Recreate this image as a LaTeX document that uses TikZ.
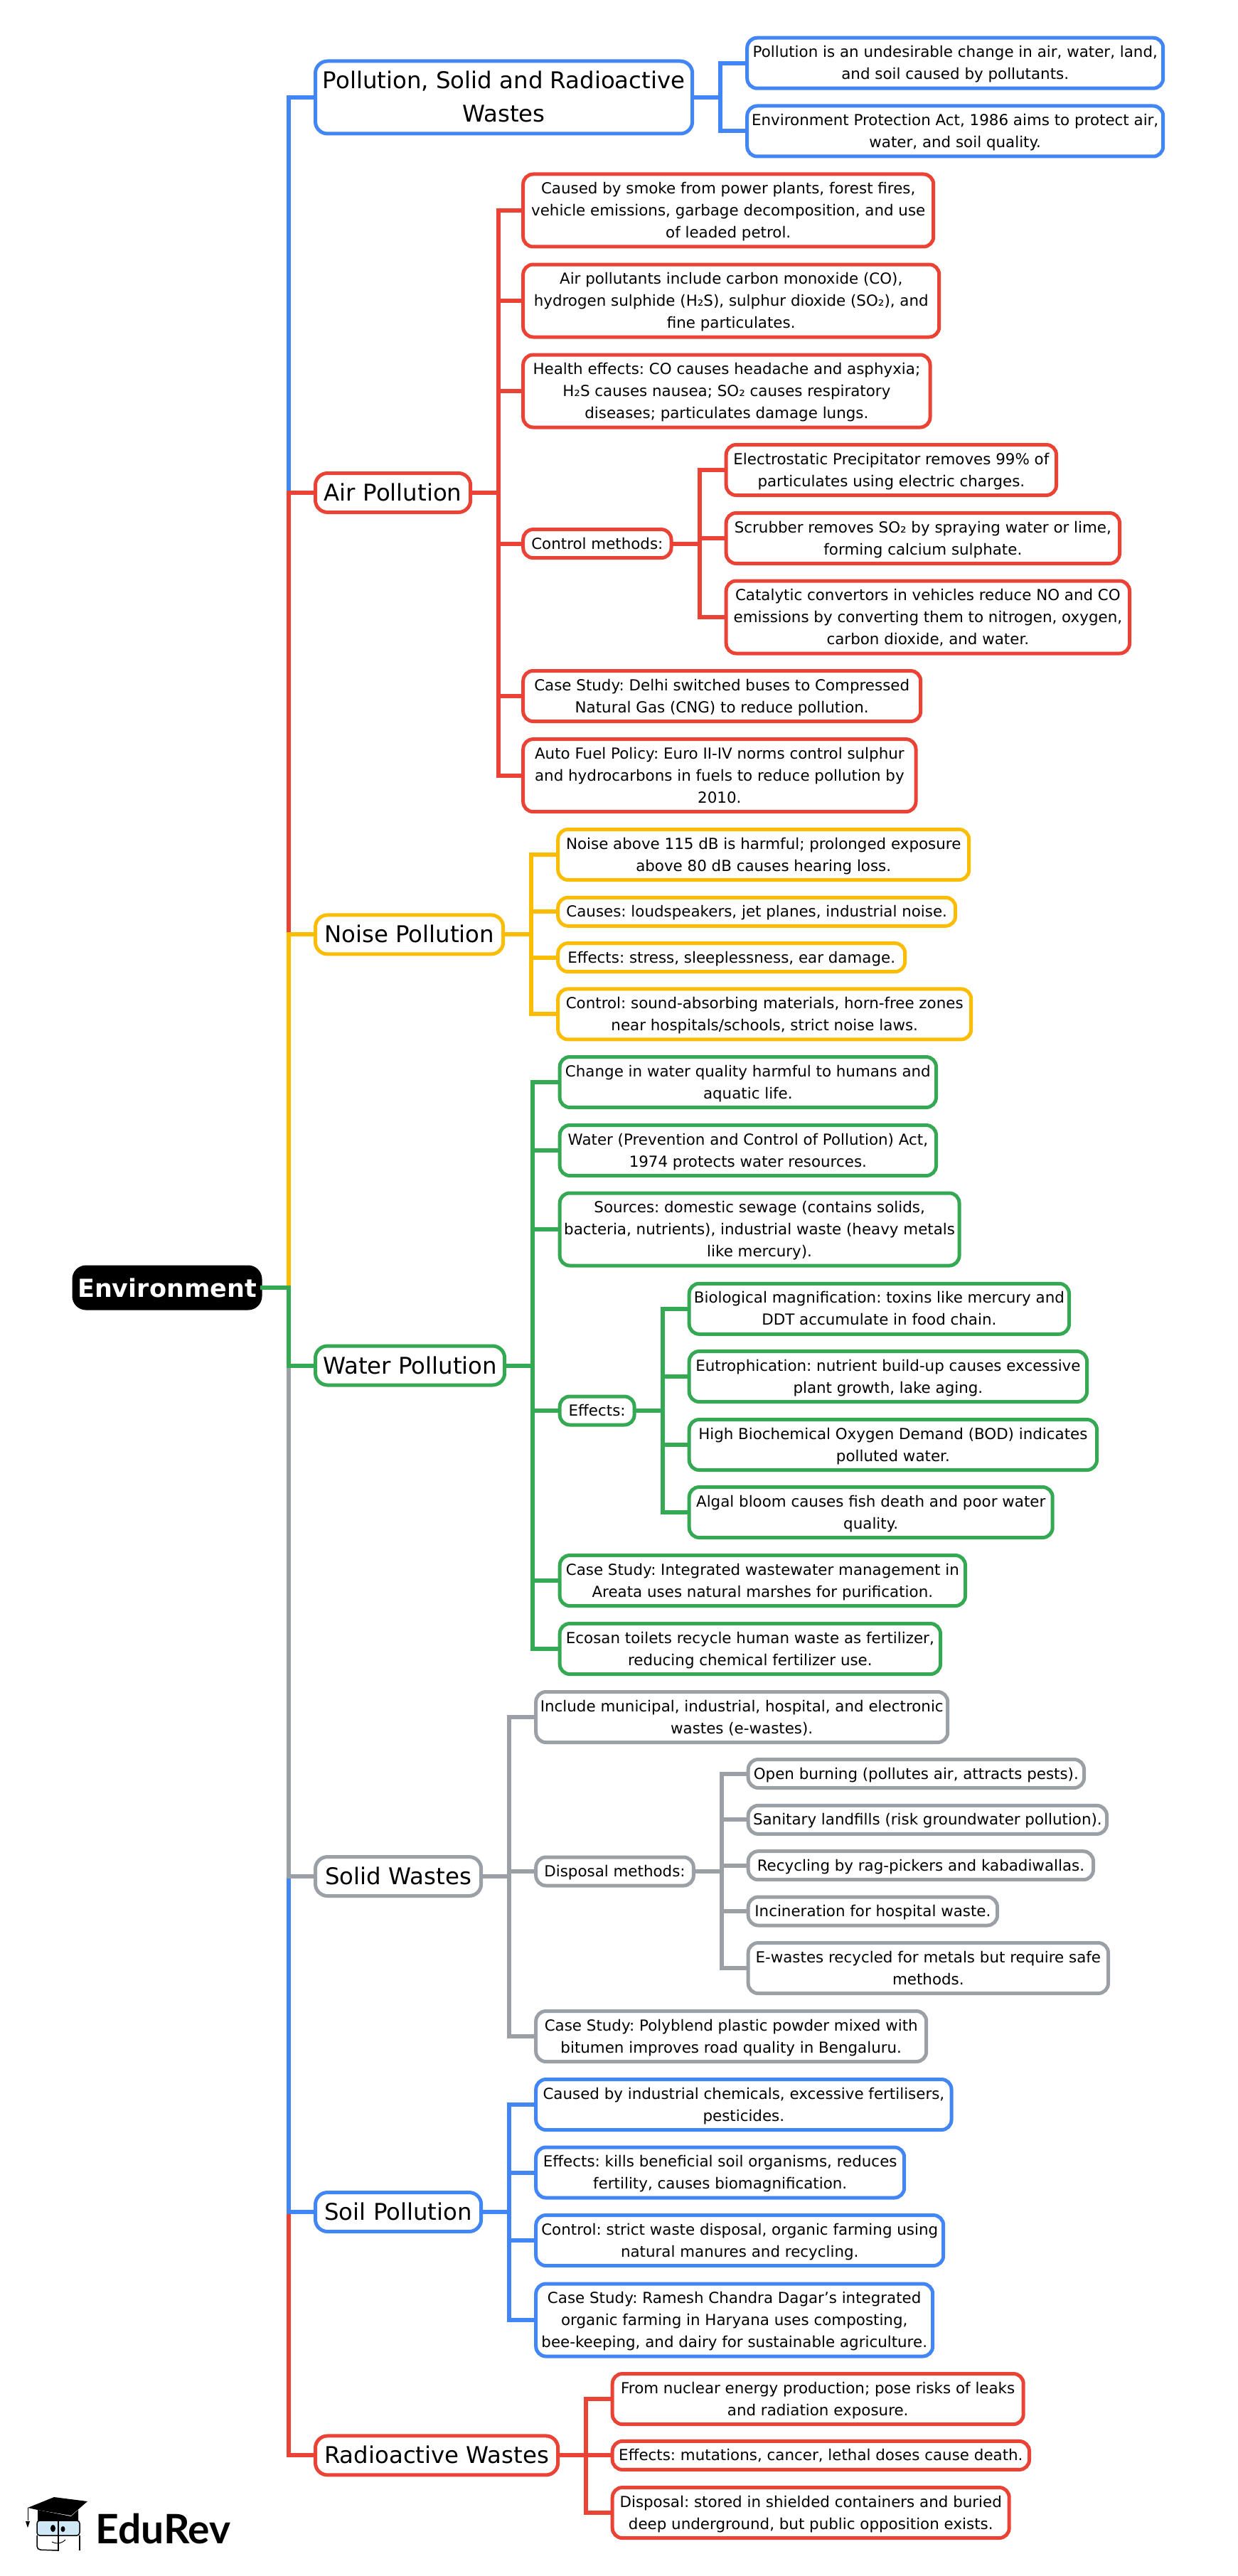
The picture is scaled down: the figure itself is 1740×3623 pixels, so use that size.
\documentclass[tikz,border=0pt]{standalone}
\usepackage{fontspec}
\setmainfont{DejaVu Sans}
\newfontfamily\logofont{Lato}
\usepackage{xcolor}
\definecolor{topblue}{HTML}{4285F4}
\definecolor{topred}{HTML}{EA4335}
\definecolor{topyellow}{HTML}{FBBC04}
\definecolor{topgreen}{HTML}{34A853}
\definecolor{topgray}{HTML}{9AA0A6}
\definecolor{lensblue}{HTML}{CFE8F6}
\AtBeginDocument{\frenchspacing}
\tikzset{
  box/.style={draw=#1, line width=5pt, outer sep=0pt, anchor=west, align=center},
  wide/.style={minimum width=#1*1pt},
  rows/.style={text height=#1*31pt-8pt, text depth=8pt},
  bigrows/.style={text height=#1*47pt-12pt, text depth=12pt},
  topic/.style={box=#1, rounded corners=17pt, inner xsep=10pt, inner ysep=4pt, bigrows=1,
    font=\fontsize{32.4}{47}\selectfont},
  leaf/.style={box=#1, rounded corners=14pt, inner xsep=6pt, inner ysep=4.5pt, rows=1,
    font=\fontsize{21.4}{31}\selectfont},
  branch/.style={draw=#1, line width=6pt, line join=miter,
    to path={-- ++(39.5,0) |- (\tikztotarget)}}
}
\begin{document}
\begin{tikzpicture}[x=1pt, y=-1pt]
    \useasboundingbox (0,0) rectangle (1740,3623);

    \node [box=black, fill=black, text=white, rounded corners=17pt, minimum width=262pt,
      minimum height=58pt, font=\fontsize{35}{47}\selectfont\bfseries] (environment)
      at (104,1811) {Environment};

    \node [topic=topblue, bigrows=2, wide=530.2] (pollution) at (443.5,137) {Pollution, Solid and Radioactive\\Wastes};
    \node [topic=topred, wide=218.2] (air) at (443.5,693) {Air Pollution};
    \node [topic=topyellow, wide=264.2] (noise) at (443.5,1314.4) {Noise Pollution};
    \node [topic=topgreen, wide=266.2] (water) at (443.5,1920.5) {Water Pollution};
    \node [topic=topgray, wide=233.2] (solid) at (443.5,2639) {Solid Wastes};
    \node [topic=topblue, wide=233.2] (soil) at (443.5,3111) {Soil Pollution};
    \node [topic=topred, wide=341.2] (radio) at (443.5,3453.4) {Radioactive Wastes};

    \node [leaf=topblue, rows=2, wide=585] (pol1) at (1050.7,88.7) {Pollution is an undesirable change in air, water, land,\\and soil caused by pollutants.};
    \node [leaf=topblue, rows=2, wide=585] (pol2) at (1050.7,184.5) {Environment Protection Act, 1986 aims to protect air,\\water, and soil quality.};

    \node [leaf=topred, rows=3, wide=577] (air1) at (735.7,296) {Caused by smoke from power plants, forest fires,\\vehicle emissions, garbage decomposition, and use\\of leaded petrol.};
    \node [leaf=topred, rows=3, wide=585] (air2) at (735.7,423) {Air pollutants include carbon monoxide (CO),\\hydrogen sulphide (H₂S), sulphur dioxide (SO₂), and\\fine particulates.};
    \node [leaf=topred, rows=3, wide=572.3] (air3) at (735.7,550) {Health effects: CO causes headache and asphyxia;\\H₂S causes nausea; SO₂ causes respiratory\\diseases; particulates damage lungs.};
    \node [leaf=topred, wide=208.3] (control) at (735.7,764.6) {Control methods:};
    \node [leaf=topred, rows=2, wide=559] (air5) at (735.7,979) {Case Study: Delhi switched buses to Compressed\\Natural Gas (CNG) to reduce pollution.};
    \node [leaf=topred, rows=3, wide=552.3] (air6) at (735.7,1090.6) {Auto Fuel Policy: Euro II-IV norms control sulphur\\and hydrocarbons in fuels to reduce pollution by\\2010.};

    \node [leaf=topred, rows=2, wide=464.3] (ctl1) at (1021.2,661) {Electrostatic Precipitator removes 99\% of\\particulates using electric charges.};
    \node [leaf=topred, rows=2, wide=553.3] (ctl2) at (1021.2,757) {Scrubber removes SO₂ by spraying water or lime,\\forming calcium sulphate.};
    \node [leaf=topred, rows=3, wide=567.3] (ctl3) at (1021.2,868) {Catalytic convertors in vehicles reduce NO and CO\\emissions by converting them to nitrogen, oxygen,\\carbon dioxide, and water.};

    \node [leaf=topyellow, rows=2, wide=578] (noise1) at (784.7,1202) {Noise above 115 dB is harmful; prolonged exposure\\above 80 dB causes hearing loss.};
    \node [leaf=topyellow, wide=559] (noise2) at (784.7,1282.3) {Causes: loudspeakers, jet planes, industrial noise.};
    \node [leaf=topyellow, wide=488] (noise3) at (784.7,1346.6) {Effects: stress, sleeplessness, ear damage.};
    \node [leaf=topyellow, rows=2, wide=581] (noise4) at (784.7,1426.4) {Control: sound-absorbing materials, horn-free zones\\near hospitals/schools, strict noise laws.};

    \node [leaf=topgreen, rows=2, wide=529.3] (water1) at (787.2,1522) {Change in water quality harmful to humans and\\aquatic life.};
    \node [leaf=topgreen, rows=2, wide=529.3] (water2) at (787.2,1618) {Water (Prevention and Control of Pollution) Act,\\1974 protects water resources.};
    \node [leaf=topgreen, rows=3, wide=559.3] (water3) at (787.2,1729) {Sources: domestic sewage (contains solids,\\bacteria, nutrients), industrial waste (heavy metals\\like mercury).};
    \node [leaf=topgreen, wide=104.9] (effects) at (787.2,1984) {Effects:};
    \node [leaf=topgreen, rows=2, wide=570.3] (water5) at (787.2,2223) {Case Study: Integrated wastewater management in\\Areata uses natural marshes for purification.};
    \node [leaf=topgreen, rows=2, wide=535.3] (water6) at (787.2,2319) {Ecosan toilets recycle human waste as fertilizer,\\reducing chemical fertilizer use.};

    \node [leaf=topgreen, rows=2, wide=534.3] (eff1) at (969.2,1840.8) {Biological magnification: toxins like mercury and\\DDT accumulate in food chain.};
    \node [leaf=topgreen, rows=2, wide=559.3] (eff2) at (969.2,1936) {Eutrophication: nutrient build-up causes excessive\\plant growth, lake aging.};
    \node [leaf=topgreen, rows=2, wide=573.3] (eff3) at (969.2,2032) {High Biochemical Oxygen Demand (BOD) indicates\\polluted water.};
    \node [leaf=topgreen, rows=2, wide=511] (eff4) at (969.2,2127) {Algal bloom causes fish death and poor water\\quality.};

    \node [leaf=topgray, rows=2, wide=579] (solid1) at (753.7,2415) {Include municipal, industrial, hospital, and electronic\\wastes (e-wastes).};
    \node [leaf=topgray, wide=221.6] (disposal) at (753.7,2632) {Disposal methods:};
    \node [leaf=topgray, rows=2, wide=549] (solid3) at (753.7,2864) {Case Study: Polyblend plastic powder mixed with\\bitumen improves road quality in Bengaluru.};

    \node [leaf=topgray, wide=472.3] (disp1) at (1052.2,2494.5) {Open burning (pollutes air, attracts pests).};
    \node [leaf=topgray, wide=504.3] (disp2) at (1052.2,2559.4) {Sanitary landfills (risk groundwater pollution).};
    \node [leaf=topgray, wide=485.3] (disp3) at (1052.2,2623.7) {Recycling by rag-pickers and kabadiwallas.};
    \node [leaf=topgray, wide=350.3] (disp4) at (1052.2,2688) {Incineration for hospital waste.};
    \node [leaf=topgray, rows=2, wide=506.3] (disp5) at (1052.2,2768) {E-wastes recycled for metals but require safe\\methods.};

    \node [leaf=topblue, rows=2, wide=584.3] (soil1) at (753.7,2960) {Caused by industrial chemicals, excessive fertilisers,\\pesticides.};
    \node [leaf=topblue, rows=2, wide=518] (soil2) at (753.7,3055.5) {Effects: kills beneficial soil organisms, reduces\\fertility, causes biomagnification.};
    \node [leaf=topblue, rows=2, wide=573] (soil3) at (753.7,3151) {Control: strict waste disposal, organic farming using\\natural manures and recycling.};
    \node [leaf=topblue, rows=3, wide=558] (soil4) at (753.7,3263) {Case Study: Ramesh Chandra Dagar’s integrated\\organic farming in Haryana uses composting,\\bee-keeping, and dairy for sustainable agriculture.};

    \node [leaf=topred, rows=2, wide=578] (radio1) at (861.2,3374) {From nuclear energy production; pose risks of leaks\\and radiation exposure.};
    \node [leaf=topred, wide=586.3] (radio2) at (861.2,3453.4) {Effects: mutations, cancer, lethal doses cause death.};
    \node [leaf=topred, rows=2, wide=558] (radio3) at (861.2,3534) {Disposal: stored in shielded containers and buried\\deep underground, but public opposition exists.};

    \foreach \topicname/\col in {pollution/topblue, air/topred, noise/topyellow, radio/topred,
      soil/topblue, solid/topgray, water/topgreen}
      \draw [branch=\col] (environment.east) to (\topicname.west);

    \foreach \kid in {pol1, pol2}
      \draw [branch=topblue] (pollution.east) to (\kid.west);
    \foreach \kid in {air1, air2, air3, control, air5, air6}
      \draw [branch=topred] (air.east) to (\kid.west);
    \foreach \kid in {ctl1, ctl2, ctl3}
      \draw [branch=topred] (control.east) to (\kid.west);
    \foreach \kid in {noise1, noise2, noise3, noise4}
      \draw [branch=topyellow] (noise.east) to (\kid.west);
    \foreach \kid in {water1, water2, water3, effects, water5, water6}
      \draw [branch=topgreen] (water.east) to (\kid.west);
    \foreach \kid in {eff1, eff2, eff3, eff4}
      \draw [branch=topgreen] (effects.east) to (\kid.west);
    \foreach \kid in {solid1, disposal, solid3}
      \draw [branch=topgray] (solid.east) to (\kid.west);
    \foreach \kid in {disp1, disp2, disp3, disp4, disp5}
      \draw [branch=topgray] (disposal.east) to (\kid.west);
    \foreach \kid in {soil1, soil2, soil3, soil4}
      \draw [branch=topblue] (soil.east) to (\kid.west);
    \foreach \kid in {radio1, radio2, radio3}
      \draw [branch=topred] (radio.east) to (\kid.west);

    \node [anchor=base west, inner sep=0pt, font=\fontsize{57}{57}\selectfont\logofont\bfseries] (edurev)
      at (134,3577) {EduRev};

    \fill (39,3527) -- (76,3512) -- (123,3518) -- (100,3538) -- (53,3530) -- cycle;
    \fill (53,3530) -- (100,3539) -- (110,3530) -- (110,3545) -- (53,3545) -- cycle;
    \draw [line width=1pt] (39,3527) -- (39,3545);
    \fill (36,3546) -- (42,3546) -- (39,3555) -- cycle;
    \draw [line width=1.5pt, fill=lensblue, rounded corners=4pt] (52,3545) rectangle (112,3566);
    \draw [line width=1.5pt, rounded corners=5pt] (52,3566) -- (52,3586) -- (82,3587);
    \draw [line width=1.5pt, rounded corners=5pt] (112,3566) -- (112,3587);
    \draw [line width=2pt] (81.5,3543) -- (81.5,3588);
    \fill (74.5,3556) ellipse (3.5pt and 5pt);
    \fill (88.5,3557) ellipse (3pt and 4pt);
    \draw [line width=1pt] (73,3575) .. controls (78,3578) and (86,3578) .. (92,3572);
\end{tikzpicture}
\end{document}
